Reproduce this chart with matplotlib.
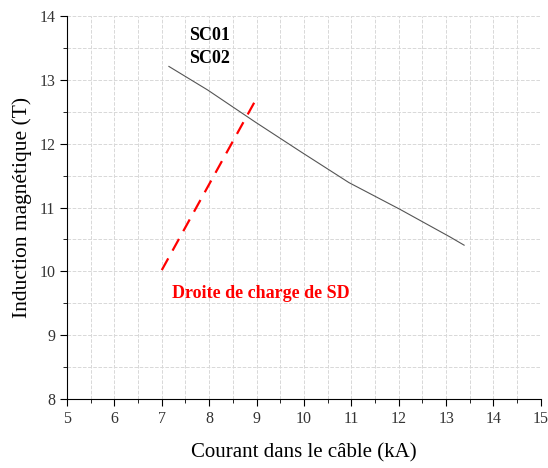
import matplotlib
matplotlib.use("Agg")
import matplotlib.pyplot as plt
from matplotlib.ticker import MultipleLocator

# SC01 / SC02 critical curve (kA, T)
courant = [7.15, 7.97, 8.97, 9.92, 10.95, 12.03, 13.08, 13.38]
induction = [13.21, 12.84, 12.34, 11.88, 11.39, 10.97, 10.54, 10.41]

# load line of SD
charge_courant = [7.0, 9.03]
charge_induction = [10.02, 12.75]

plt.rcParams['font.family'] = ['Liberation Serif', 'DejaVu Serif']

fig = plt.figure(figsize=(5.48, 4.68), dpi=100)
ax = fig.add_axes([0.1223, 0.1474, 0.8647, 0.8184])

ax.plot(courant, induction, color='#555555', lw=0.8)
ax.plot(charge_courant, charge_induction, color='red', lw=1.6, ls=(0, (6, 4)))

ax.text(7.58, 13.7, 'SC01', fontsize=13, fontweight='bold', va='center')
ax.text(7.58, 13.33, 'SC02', fontsize=13, fontweight='bold', va='center')
ax.text(7.22, 9.65, 'Droite de charge de SD', fontsize=13, fontweight='bold',
        color='red', va='center')

ax.set_xlim(5, 15)
ax.set_ylim(8, 14)
ax.xaxis.set_major_locator(MultipleLocator(1))
ax.xaxis.set_minor_locator(MultipleLocator(0.5))
ax.yaxis.set_major_locator(MultipleLocator(1))
ax.yaxis.set_minor_locator(MultipleLocator(0.5))

ax.grid(which='both', color='#d8d8d8', ls='--', lw=0.7)
ax.set_axisbelow(True)
for s in ['top', 'right']:
    ax.spines[s].set_visible(False)
ax.tick_params(which='major', direction='out', length=5, labelsize=11.5,
               labelcolor='#333333')
ax.tick_params(which='minor', direction='out', length=3)

ax.set_xlabel('Courant dans le câble (kA)', fontsize=15, labelpad=12)
ax.set_ylabel('Induction magnétique (T)', fontsize=15.5, labelpad=5)

fig.savefig('out.png', dpi=100)
